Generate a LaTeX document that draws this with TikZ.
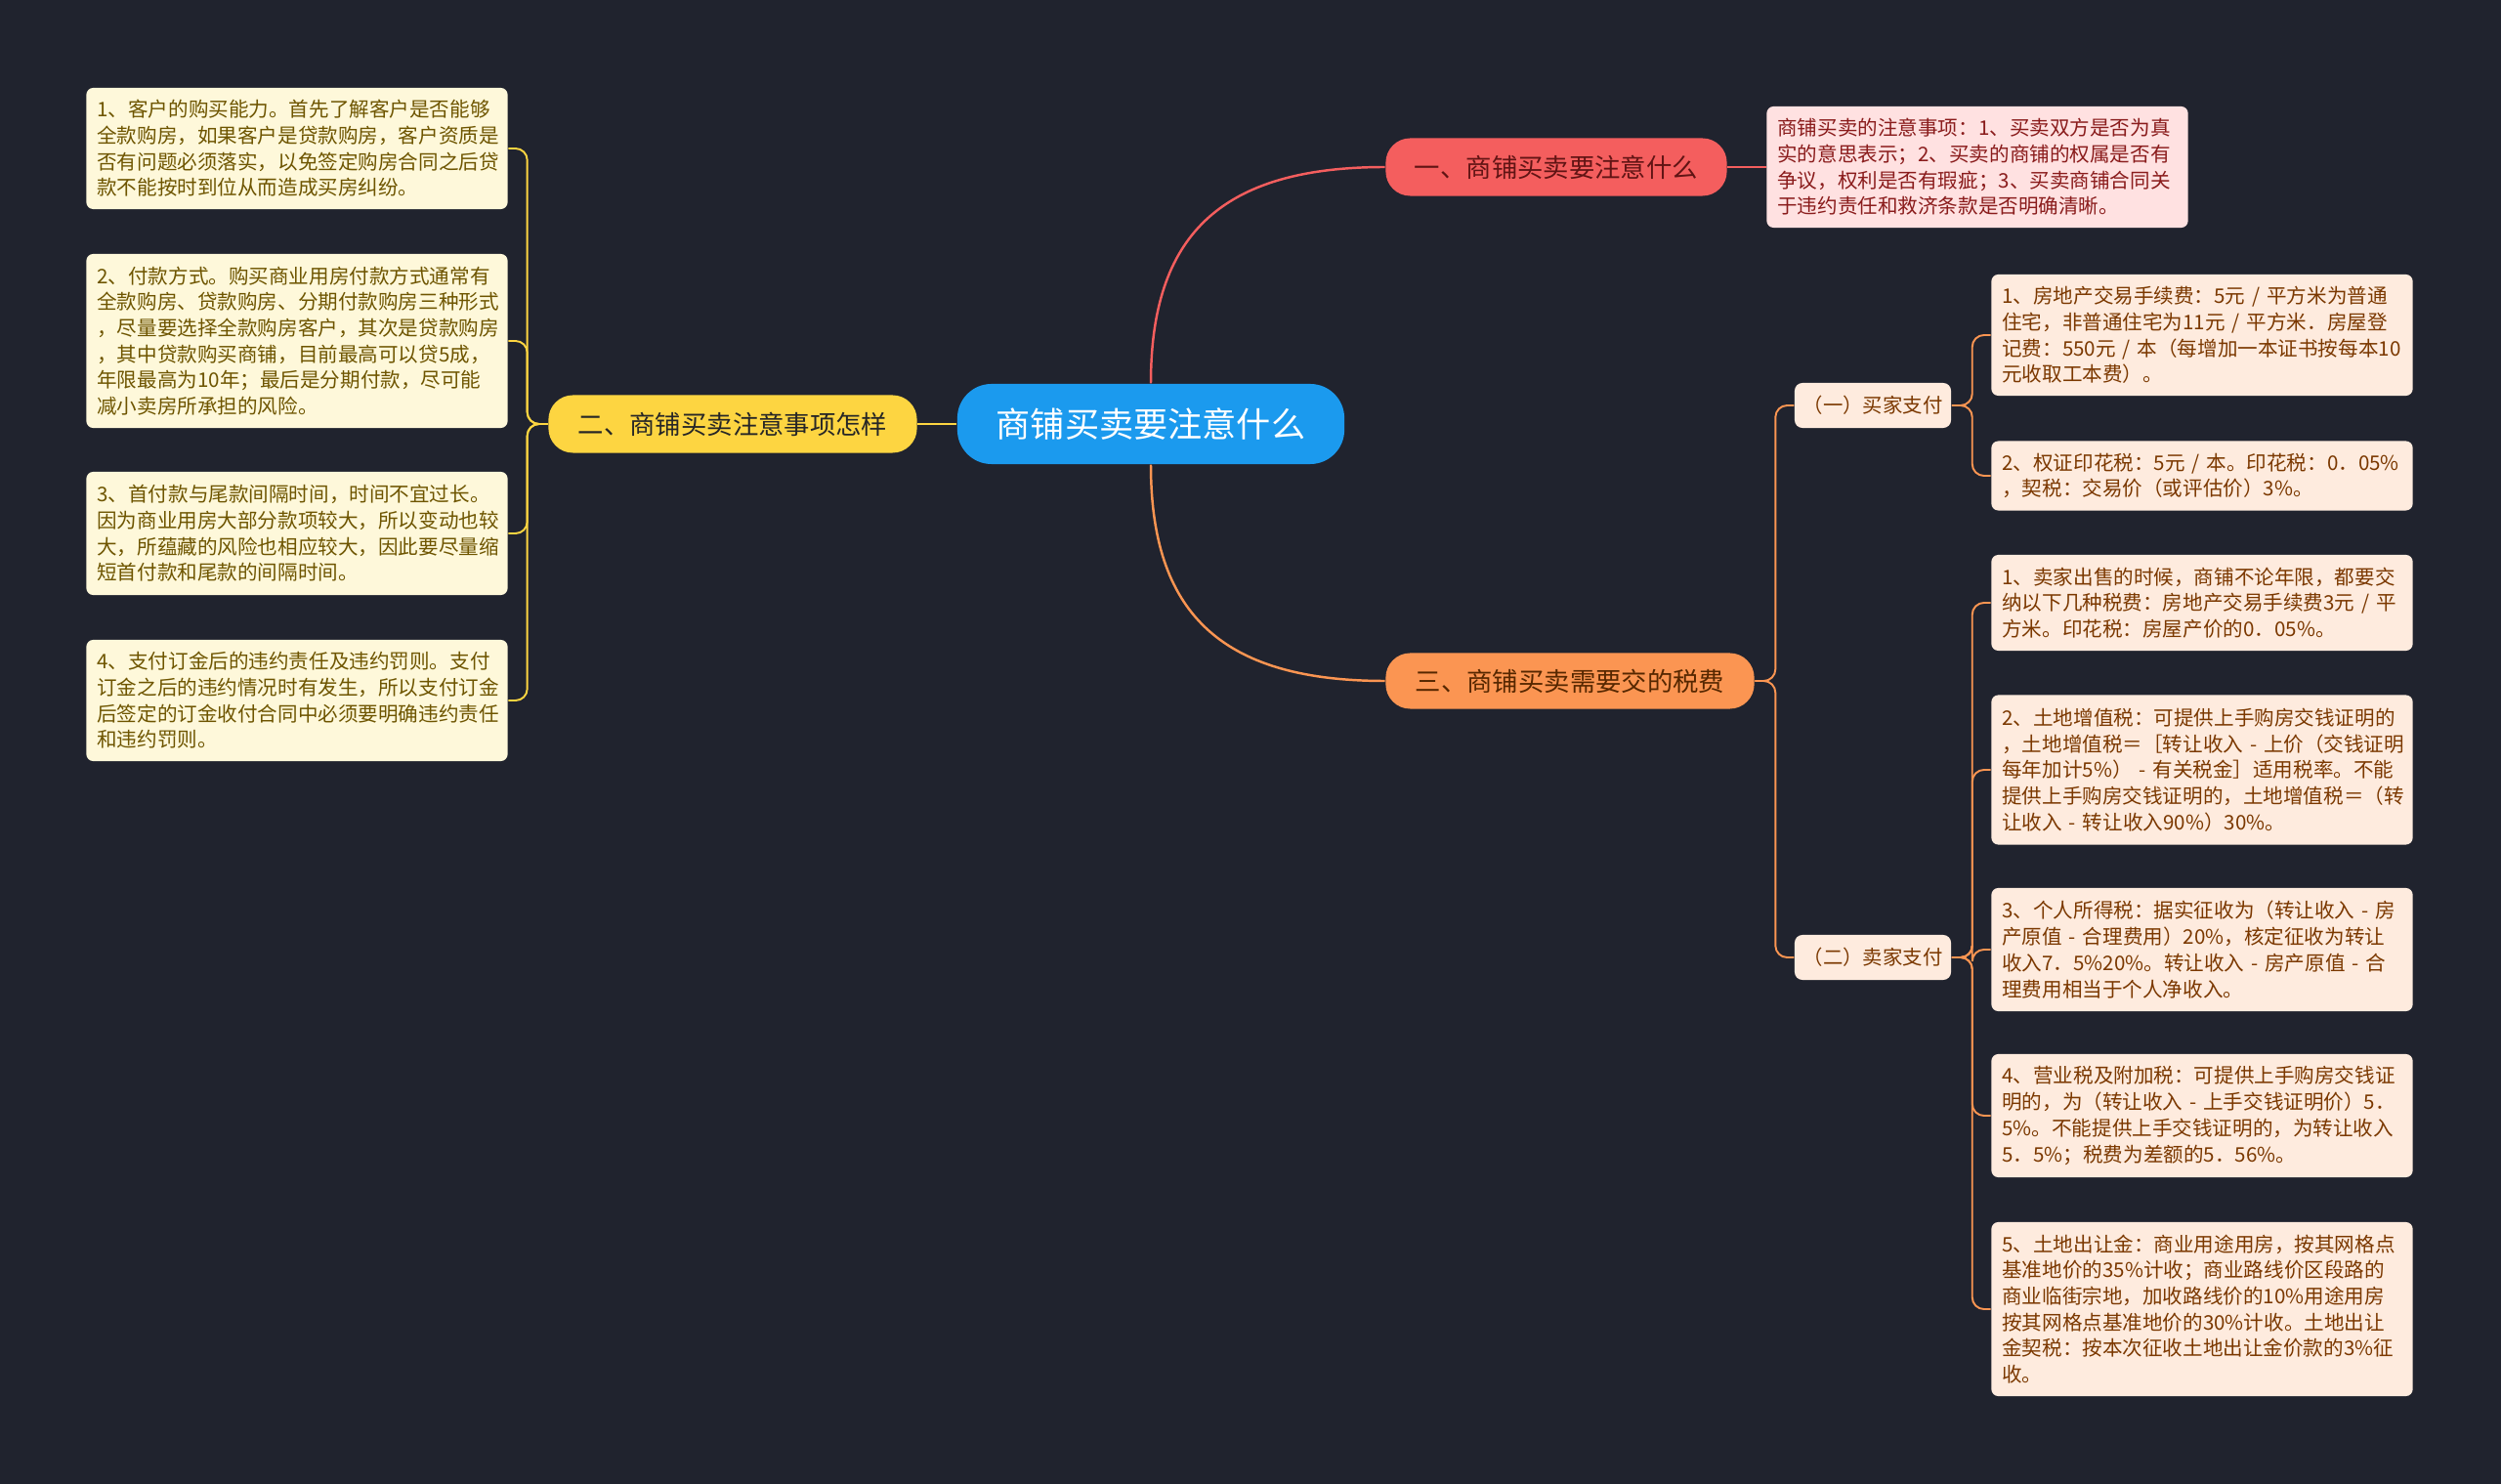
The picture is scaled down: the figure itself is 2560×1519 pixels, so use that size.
\documentclass[tikz,border=0pt]{standalone}
\usepackage{fontspec}
\setmainfont{Noto Sans CJK SC}
\usepackage{tikz}
\usetikzlibrary{positioning}
\exhyphenpenalty=10000
\definecolor{nightnavy}{HTML}{20232E}
\definecolor{rootblue}{HTML}{1B9AEE}
\definecolor{coralred}{HTML}{F45E5E}
\definecolor{sunyellow}{HTML}{FDD541}
\definecolor{tangerine}{HTML}{FB9552}
\definecolor{blushpink}{HTML}{FFE1E1}
\definecolor{creamleaf}{HTML}{FEF8DA}
\definecolor{peachleaf}{HTML}{FEEBDE}
\definecolor{maroontext}{HTML}{8A1C1C}
\definecolor{olivetext}{HTML}{6E5500}
\definecolor{browntext}{HTML}{7B3800}

\begin{document}
\begin{tikzpicture}[x=0.01cm, y=-0.01cm,
    pill/.style={rounded corners=0.25cm, align=center, inner sep=0pt, font=\fontsize{7.5}{9}\selectfont},
    leafbox/.style={rounded corners=0.07cm, text width=4.09cm, align=left, inner xsep=0.11cm, inner ysep=0pt, font=\fontsize{5.85}{7.6}\selectfont},
    tagbox/.style={rounded corners=0.08cm, fill=peachleaf, text=browntext, inner sep=0pt, minimum width=1.6cm, minimum height=0.46cm, font=\fontsize{5.8}{7}\selectfont},
    branch/.style={line width=0.7pt},
    twig/.style={line width=0.55pt, rounded corners=0.12cm}]
  % fond sombre
  \fill[nightnavy] (0,0) rectangle (2560,1519);
  \useasboundingbox (0,0) rectangle (2560,1519);

  % noeud central
  \node[pill, fill=rootblue, text=white, rounded corners=0.35cm, minimum width=3.96cm, minimum height=0.82cm, font=\fontsize{10}{12}\selectfont] (root) at (1178,434) {商铺买卖要注意什么};

  % branches principales
  \node[pill, fill=coralred, text=maroontext!70!black, minimum width=3.49cm, minimum height=0.59cm] (n1) at (1593,171) {一、商铺买卖要注意什么};
  \node[pill, fill=sunyellow, text=black!85, minimum width=3.77cm, minimum height=0.59cm] (n2) at (750,434) {二、商铺买卖注意事项怎样};
  \node[pill, fill=tangerine, text=browntext!70!black, minimum width=3.77cm, minimum height=0.57cm] (n3) at (1607,697) {三、商铺买卖需要交的税费};

  % detail du point un
  \node[leafbox, fill=blushpink, text=maroontext, minimum height=1.24cm] (d1) at (2024,171) {商铺买卖的注意事项：1、买卖双方是否为真\\实的意思表示；2、买卖的商铺的权属是否有\\争议，权利是否有瑕疵；3、买卖商铺合同关\\于违约责任和救济条款是否明确清晰。};

  % feuilles du point deux
  \node[leafbox, fill=creamleaf, text=olivetext, minimum height=1.24cm] (l1) at (304,152) {1、客户的购买能力。首先了解客户是否能够\\全款购房，如果客户是贷款购房，客户资质是\\否有问题必须落实，以免签定购房合同之后贷\\款不能按时到位从而造成买房纠纷。};
  \node[leafbox, fill=creamleaf, text=olivetext, minimum height=1.78cm] (l2) at (304,349) {2、付款方式。购买商业用房付款方式通常有\\全款购房、贷款购房、分期付款购房三种形式\\，尽量要选择全款购房客户，其次是贷款购房\\，其中贷款购买商铺，目前最高可以贷5成，\\年限最高为10年；最后是分期付款，尽可能\\减小卖房所承担的风险。};
  \node[leafbox, fill=creamleaf, text=olivetext, minimum height=1.26cm] (l3) at (304,546) {3、首付款与尾款间隔时间，时间不宜过长。\\因为商业用房大部分款项较大，所以变动也较\\大，所蕴藏的风险也相应较大，因此要尽量缩\\短首付款和尾款的间隔时间。};
  \node[leafbox, fill=creamleaf, text=olivetext, minimum height=1.24cm] (l4) at (304,717) {4、支付订金后的违约责任及违约罚则。支付\\订金之后的违约情况时有发生，所以支付订金\\后签定的订金收付合同中必须要明确违约责任\\和违约罚则。};

  % sous-branches du point trois
  \node[tagbox] (b1) at (1917,415) {（一）买家支付};
  \node[tagbox] (b2) at (1917,980) {（二）卖家支付};

  \node[leafbox, fill=peachleaf, text=browntext, minimum height=1.24cm] (r1) at (2254,343) {1、房地产交易手续费：5元~/~平方米为普通\\住宅，非普通住宅为11元~/~平方米．房屋登\\记费：550元~/~本（每增加一本证书按每本10\\元收取工本费）。};
  \node[leafbox, fill=peachleaf, text=browntext, minimum height=0.71cm] (r2) at (2254,487) {2、权证印花税：5元~/~本。印花税：0．05\%\\，契税：交易价（或评估价）3\%。};
  \node[leafbox, fill=peachleaf, text=browntext, minimum height=0.98cm] (r3) at (2254,617) {1、卖家出售的时候，商铺不论年限，都要交\\纳以下几种税费：房地产交易手续费3元~/~平\\方米。印花税：房屋产价的0．05\%。};
  \node[leafbox, fill=peachleaf, text=browntext, minimum height=1.53cm] (r4) at (2254,788) {2、土地增值税：可提供上手购房交钱证明的\\\mbox{，土地增值税＝［转让收入~-~上价（交钱证明}\\每年加计5\%）~-~有关税金］适用税率。不能\\提供上手购房交钱证明的，土地增值税＝（转\\让收入~-~转让收入90\%）30\%。};
  \node[leafbox, fill=peachleaf, text=browntext, minimum height=1.26cm] (r5) at (2254,972) {3、个人所得税：据实征收为（转让收入~-~房\\产原值~-~合理费用）20\%，核定征收为转让\\收入7．5\%20\%。转让收入~-~房产原值~-~合\\理费用相当于个人净收入。};
  \node[leafbox, fill=peachleaf, text=browntext, minimum height=1.26cm] (r6) at (2254,1142) {4、营业税及附加税：可提供上手购房交钱证\\明的，为（转让收入~-~上手交钱证明价）5．\\5\%。不能提供上手交钱证明的，为转让收入\\5．5\%；税费为差额的5．56\%。};
  \node[leafbox, fill=peachleaf, text=browntext, minimum height=1.78cm] (r7) at (2254,1340) {5、土地出让金：商业用途用房，按其网格点\\基准地价的35\%计收；商业路线价区段路的\\商业临街宗地，加收路线价的10\%用途用房\\按其网格点基准地价的30\%计收。土地出让\\金契税：按本次征收土地出让金价款的3\%征\\收。};

  % liaisons
  \draw[branch, coralred] (root.north) .. controls +(0,-150) and +(-170,0) .. (n1.west);
  \draw[branch, tangerine] (root.south) .. controls +(0,150) and +(-170,0) .. (n3.west);
  \draw[branch, sunyellow] (root.west) -- (n2.east);
  \draw[branch, coralred] (n1.east) -- (d1.west);
  \foreach \leaf in {l1,l2,l3,l4}
    \draw[twig, sunyellow] (n2.west) -- ++(-21,0) |- (\leaf.east);
  \foreach \tag in {b1,b2}
    \draw[twig, tangerine] (n3.east) -- ++(21,0) |- (\tag.west);
  \foreach \leaf in {r1,r2}
    \draw[twig, tangerine] (b1.east) -- ++(21,0) |- (\leaf.west);
  \foreach \leaf in {r3,r4,r5,r6,r7}
    \draw[twig, tangerine] (b2.east) -- ++(21,0) |- (\leaf.west);
\end{tikzpicture}
\end{document}
